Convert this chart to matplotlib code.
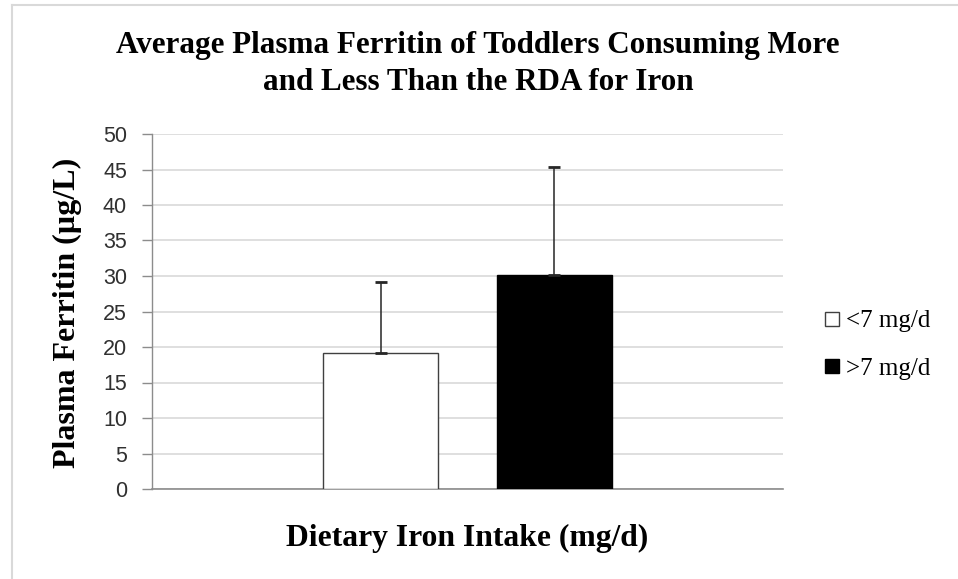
import matplotlib
matplotlib.use("Agg")
import matplotlib.pyplot as plt
from matplotlib.lines import Line2D

series = ["<7 mg/d", ">7 mg/d"]
means = [19.2, 30.2]
errors = [10.0, 15.1]
colors = ["white", "black"]
yticks = [0, 5, 10, 15, 20, 25, 30, 35, 40, 45, 50]

W, H = 958, 579
fig = plt.figure(figsize=(W / 100, H / 100), dpi=100)
ax = fig.add_axes([152 / W, 1 - 489 / H, (783 - 152) / W, (489 - 134) / H])

offsets = [-0.1375, 0.1375]
width = 0.182
for i in range(2):
    ax.bar(offsets[i], means[i], width=width, color=colors[i], edgecolor="#404040" if i == 0 else "black",
           linewidth=1.0, zorder=3)
    ax.errorbar(offsets[i], means[i], yerr=[[0], [errors[i]]], fmt="none", ecolor="#262626",
                elinewidth=1.1, capsize=4.5, capthick=2, zorder=4)

ax.set_xlim(-0.5, 0.5)
ax.set_ylim(0, 50)
ax.set_yticks(yticks)
ax.set_xticks([])
ax.yaxis.grid(True, color="#d9d9d9", linewidth=1.2, zorder=0)
ax.set_axisbelow(True)
for s in ["top", "right"]:
    ax.spines[s].set_visible(False)
ax.spines["left"].set_color("#8c8c8c")
ax.spines["bottom"].set_color("#8c8c8c")
ax.spines["left"].set_linewidth(1.0)
ax.spines["bottom"].set_linewidth(1.2)
ax.tick_params(axis="y", direction="out", length=7, width=1, color="#8c8c8c", pad=11,
               labelsize=15.5, labelcolor="#303030")
for lbl in ax.get_yticklabels():
    lbl.set_family(["Liberation Sans", "DejaVu Sans"])

serif = ["Liberation Serif", "DejaVu Serif"]
fig.text(478 / W, 1 - 64 / H, "Average Plasma Ferritin of Toddlers Consuming More\nand Less Than the RDA for Iron",
         ha="center", va="center", fontsize=22.4, fontweight="bold", family=serif, linespacing=1.38)
fig.text(67 / W, 1 - 313 / H, "Plasma Ferritin (µg/L)", rotation=90, ha="center", va="center",
         fontsize=23, fontweight="bold", family=serif)
fig.text(467 / W, 1 - 538 / H, "Dietary Iron Intake (mg/d)", ha="center", va="center",
         fontsize=22.8, fontweight="bold", family=serif)

handles = [Line2D([], [], marker="s", linestyle="none", markersize=10, markerfacecolor=c,
                  markeredgecolor="#404040" if c == "white" else "black", markeredgewidth=1)
           for c in colors]
fig.legend(handles, series, loc="center left", bbox_to_anchor=(801 / W, 1 - 345 / H), frameon=False,
           prop={"family": serif, "size": 18}, handlelength=0.7, handletextpad=0.2, labelspacing=1.0)

# chart border (left and top)
fig.add_artist(Line2D([12 / W, 12 / W], [0, 1 - 5 / H], transform=fig.transFigure, color="#d9d9d9", linewidth=1.5))
fig.add_artist(Line2D([12 / W, 1], [1 - 5 / H, 1 - 5 / H], transform=fig.transFigure, color="#d9d9d9", linewidth=1.5))

fig.savefig("out.png", dpi=100)
